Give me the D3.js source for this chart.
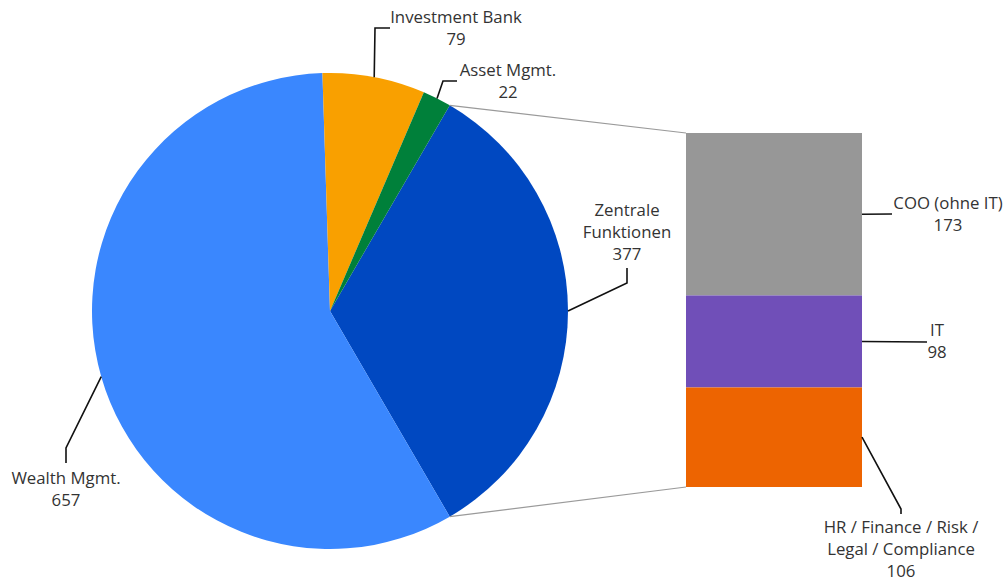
<!DOCTYPE html>
<html>
<head>
<meta charset="utf-8">
<script src="https://cdn.jsdelivr.net/npm/d3@7"></script>
<style>
  html, body { margin: 0; padding: 0; background: #fff; }
  svg { display: block; }
  text { font-family: "Open Sans", "Noto Sans", sans-serif; font-size: 16.8px; fill: #333; }
</style>
</head>
<body>
<svg id="chart" width="1008" height="583"></svg>
<script>
// Headcount by division (pie) and breakdown of central functions (stacked bar)
const pieLabels = [["Zentrale", "Funktionen"], ["Wealth Mgmt."], ["Investment Bank"], ["Asset Mgmt."]];
const pieValues = [377, 657, 79, 22];
const pieColors = ["#0048c1", "#3a87fe", "#f9a000", "#00803a"];

const barLabels = [["COO (ohne IT)"], ["IT"], ["HR / Finance / Risk /", "Legal / Compliance"]];
const barValues = [173, 98, 106];
const barColors = ["#979797", "#704fb8", "#ed6401"];

const svg = d3.select("#chart");
const cx = 330, cy = 311, R = 238;
const lineH = 22;

// Pie: the central-functions slice is centred on the right-hand side
const total = d3.sum(pieValues);
const start = Math.PI / 2 - Math.PI * pieValues[0] / total;
const pie = d3.pie().sort(null).startAngle(start).endAngle(start + 2 * Math.PI);
const arcs = pie(pieValues);
const arc = d3.arc().innerRadius(0).outerRadius(R);

const g = svg.append("g").attr("transform", `translate(${cx},${cy})`);
g.selectAll("path").data(arcs).join("path")
  .attr("d", arc)
  .attr("fill", (d, i) => pieColors[i]);

// Stacked bar
const barX = 686, barW = 176;
const y = d3.scaleLinear().domain([0, d3.sum(barValues)]).range([133, 487]);
const cum = d3.cumsum([0, ...barValues]);
svg.selectAll("rect.seg").data(barValues).join("rect")
  .attr("class", "seg")
  .attr("x", barX).attr("width", barW)
  .attr("y", (d, i) => y(cum[i]))
  .attr("height", (d, i) => y(cum[i + 1]) - y(cum[i]))
  .attr("fill", (d, i) => barColors[i]);

// Connector lines from the central-functions slice to the bar
const zf = arcs[0];
const edge = a => [cx + R * Math.sin(a), cy - R * Math.cos(a)];
const pA = edge(zf.startAngle), pB = edge(zf.endAngle);
svg.append("line").attr("x1", pA[0]).attr("y1", pA[1]).attr("x2", barX).attr("y2", y(0))
  .attr("stroke", "#9a9a9a").attr("stroke-width", 1.2);
svg.append("line").attr("x1", pB[0]).attr("y1", pB[1]).attr("x2", barX).attr("y2", y(cum[cum.length - 1]))
  .attr("stroke", "#9a9a9a").attr("stroke-width", 1.2);

// Label layout: leader elbow points and text anchor per item
const pieLayout = [
  { pts: [[627, 283], [627, 268]], tx: 627, ty: 210 },
  { pts: [[66, 448], [66, 463]], tx: 66, ty: 478 },
  { pts: [[375, 28], [390, 28]], tx: 456, ty: 17 },
  { pts: [[443, 81], [457, 81]], tx: 508, ty: 70 }
];
const barLayout = [
  { pts: [[892, 214]], tx: 948, ty: 203 },
  { pts: [[927, 342]], tx: 937, ty: 330 },
  { pts: [[901, 509], [901, 514]], tx: 901, ty: 527 }
];

function drawLabel(startPt, layout, lines, value) {
  const pts = [startPt, ...layout.pts];
  svg.append("path")
    .attr("d", d3.line()(pts))
    .attr("fill", "none").attr("stroke", "#111").attr("stroke-width", 1.6);
  const t = svg.append("text").attr("text-anchor", "middle");
  [...lines, String(value)].forEach((s, k) => {
    t.append("tspan").attr("x", layout.tx).attr("y", layout.ty + k * lineH)
      .attr("dy", "0.35em").text(s);
  });
}

arcs.forEach((d, i) => {
  const a = (d.startAngle + d.endAngle) / 2;
  drawLabel(edge(a), pieLayout[i], pieLabels[i], pieValues[i]);
});
barValues.forEach((v, i) => {
  const my = (y(cum[i]) + y(cum[i + 1])) / 2;
  drawLabel([barX + barW, my], barLayout[i], barLabels[i], v);
});
</script>
</body>
</html>
